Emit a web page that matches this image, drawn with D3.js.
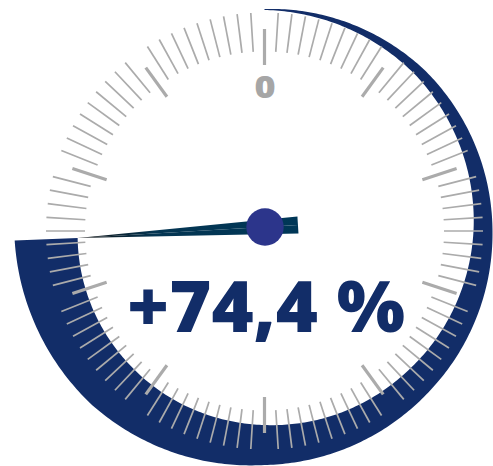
<!DOCTYPE html>
<html>
<head>
<meta charset="utf-8">
<script src="https://cdn.jsdelivr.net/npm/d3@7"></script>
<style>
  html, body { margin: 0; padding: 0; background: #ffffff; }
  svg { display: block; }
</style>
</head>
<body>
<svg id="chart" width="493" height="466"></svg>
<script>
// ---- data ----
const gaugeMin = 0;
const gaugeMax = 100;
const gaugeValue = 74.4;
const valueLabel = "+74,4 %";
const tickCount = 100;        // minor divisions around the dial
const majorEvery = 10;        // every 10th tick is a major tick
const scaleLabels = ["0"];    // label shown at the top

// ---- layout / style ----
const W = 493, H = 466;
const cx = 264.5, cy = 231;   // dial centre
const px = 265, py = 227;     // needle pivot
const navy = "#122d68";
const tickColor = "#ababab";

const svg = d3.select("#chart");

const angle = d3.scaleLinear().domain([gaugeMin, gaugeMax]).range([0, 2 * Math.PI]);
const endA = angle(gaugeValue);
const endDeg = endA * 180 / Math.PI;

// band radii as a function of angle (degrees) -> spiral shape
const rIn = d3.scaleLinear()
  .domain([0, 45, 90, 135, 180, 225, endDeg])
  .range([221, 217, 209, 200, 194, 190, 187]);
const rOut = d3.scaleLinear()
  .domain([0, 45, 90, 135, 180, 225, endDeg])
  .range([222, 227, 228, 230, 234, 245, 250]);

const g = svg.append("g").attr("transform", `translate(${cx},${cy})`);

// value band
const steps = d3.range(0, 361).map(i => i / 360 * endA);
const area = d3.areaRadial()
  .angle(a => a)
  .innerRadius(a => rIn(a * 180 / Math.PI))
  .outerRadius(a => rOut(a * 180 / Math.PI));
g.append("path").datum(steps).attr("d", area).attr("fill", navy);

// ticks
const ticks = d3.range(tickCount).map(i => ({ i, major: i % majorEvery === 0, a: i / tickCount * 2 * Math.PI }));
g.selectAll("line.tick").data(ticks).join("line")
  .attr("class", "tick")
  .attr("x1", d => Math.sin(d.a) * (d.major ? 166 : 179.5))
  .attr("y1", d => -Math.cos(d.a) * (d.major ? 166 : 179.5))
  .attr("x2", d => Math.sin(d.a) * (d.major ? 202 : 218.5))
  .attr("y2", d => -Math.cos(d.a) * (d.major ? 202 : 218.5))
  .attr("stroke", tickColor)
  .attr("stroke-width", d => d.major ? 3.2 : 1.7);

// "0" label
g.append("text")
  .attr("x", 0.5).attr("y", -133)
  .attr("text-anchor", "middle")
  .attr("font-family", "'Open Sans', sans-serif")
  .attr("font-weight", 800)
  .attr("font-size", 30)
  .attr("fill", "#a6a6a6")
  .attr("transform", "scale(1.2,1)")
  .text(scaleLabels[0]);

// value text
svg.append("text")
  .attr("x", 266).attr("y", 331.5)
  .attr("text-anchor", "middle")
  .attr("font-family", "'Open Sans', sans-serif")
  .attr("font-weight", 800)
  .attr("font-size", 70)
  .attr("fill", navy)
  .attr("textLength", 278)
  .attr("lengthAdjust", "spacingAndGlyphs")
  .text(valueLabel);

// needle
const tipR = rIn(endDeg);
const tip = [cx + Math.sin(endA) * tipR, cy - Math.cos(endA) * tipR];
const dx = px - tip[0], dy = py - tip[1];
const len = Math.hypot(dx, dy);
const ux = dx / len, uy = dy / len;
const tailLen = 33, halfW = 8.5;
const tail = [px + ux * tailLen, py + uy * tailLen];
const nx = -uy, ny = ux;
const defs = svg.append("defs");
const grad = defs.append("linearGradient").attr("id", "ng")
  .attr("gradientUnits", "userSpaceOnUse")
  .attr("x1", tip[0]).attr("y1", tip[1]).attr("x2", tail[0]).attr("y2", tail[1]);
grad.append("stop").attr("offset", 0).attr("stop-color", "#111111");
grad.append("stop").attr("offset", 0.35).attr("stop-color", "#043552");
grad.append("stop").attr("offset", 1).attr("stop-color", "#003757");
svg.append("path")
  .attr("d", `M${tip[0]},${tip[1]}L${tail[0] + nx * halfW},${tail[1] + ny * halfW}L${tail[0]},${tail[1]}Z`)
  .attr("fill", "url(#ng)");
svg.append("path")
  .attr("d", `M${tip[0]},${tip[1]}L${tail[0] - nx * halfW},${tail[1] - ny * halfW}L${tail[0]},${tail[1]}Z`)
  .attr("fill", "url(#ng)");

// pivot
svg.append("circle").attr("cx", px).attr("cy", py).attr("r", 18.7).attr("fill", "#2c358b");
</script>
</body>
</html>
